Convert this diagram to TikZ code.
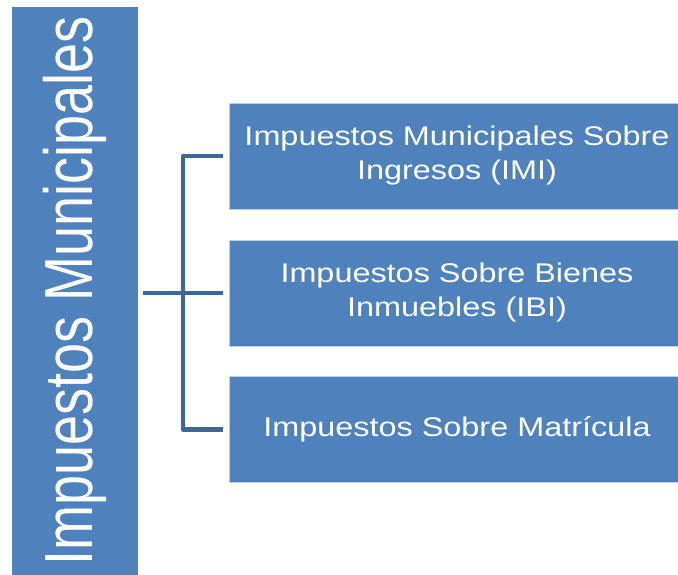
\documentclass[tikz,border=0pt]{standalone}
\usepackage{graphicx}
\usepackage{fontspec}
\setmainfont{Liberation Sans}
\usepackage{xcolor}
\usetikzlibrary{positioning,calc}

\definecolor{boxblue}{RGB}{79,129,189}
\definecolor{lineblue}{RGB}{62,102,150}
\definecolor{edgeblue}{RGB}{190,208,232}

\newcommand{\wtxt}[1]{\scalebox{1.2}[1]{#1}}

\tikzset{
    titlebox/.style={fill=boxblue, minimum width=126pt, minimum height=568pt, inner sep=0pt},
    itembox/.style={fill=boxblue, draw=edgeblue, line width=0.8pt, minimum width=456pt,
        minimum height=106pt, inner sep=0pt, align=center, text=white,
        font=\fontsize{27}{34}\selectfont},
    conn/.style={lineblue, line width=4.5pt, line join=round}
}

\begin{document}
\begin{tikzpicture}[x=1pt, y=-1pt]
    % Page frame
    \useasboundingbox (0,0) rectangle (678,575);
    \clip (0,0) rectangle (678,575);

    % Left title box
    \node[titlebox] (title) at (75,291) {};
    \node[rotate=90, text=white, inner sep=0pt] at (title.center)
        {\scalebox{1}[1.26]{\fontsize{54}{60}\selectfont Impuestos Municipales}};

    % Right boxes
    \node[itembox] (imi) at (457,156) {\wtxt{Impuestos Municipales Sobre}\\\wtxt{Ingresos (IMI)}};
    \node[itembox] (ibi) at (457,293) {\wtxt{Impuestos Sobre Bienes}\\\wtxt{Inmuebles (IBI)}};
    \node[itembox] (mat) at (457,429.5) {\wtxt{Impuestos Sobre Matrícula}};

    % Bracket connector
    \coordinate (spine) at (183,293);
    \draw[conn, shorten <=5pt, shorten >=6pt] (title.east |- ibi.west) -- (ibi.west);
    \draw[conn, shorten <=6pt, shorten >=6pt] (imi.west) -| (spine) |- (mat.west);
\end{tikzpicture}
\end{document}
